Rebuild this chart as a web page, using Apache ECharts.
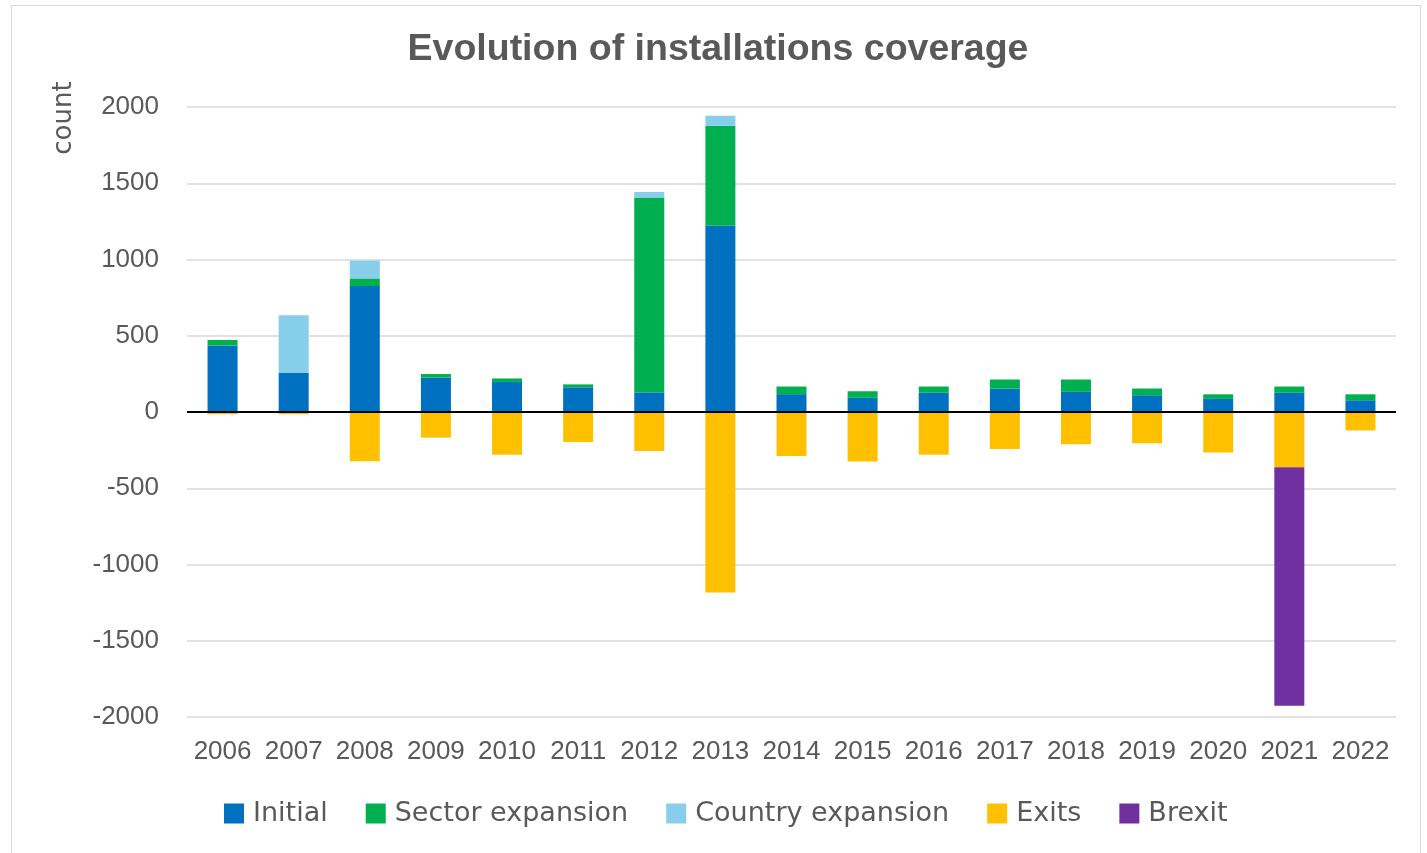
<!DOCTYPE html>
<html>
<head>
<meta charset="utf-8">
<title>Evolution of installations coverage</title>
<script src="https://cdn.jsdelivr.net/npm/echarts@6/dist/echarts.min.js"></script>
<style>
  html, body { margin: 0; padding: 0; background: #ffffff; }
  #chart { width: 1427px; height: 853px; }
</style>
</head>
<body>
<div id="chart"></div>
<script>
// Years on the category axis
const years = ['2006', '2007', '2008', '2009', '2010', '2011', '2012', '2013', '2014',
               '2015', '2016', '2017', '2018', '2019', '2020', '2021', '2022'];

// Installation counts per year, by change type
const initial = [435, 255, 826, 227, 197, 162, 129, 1222, 117, 93, 126, 154, 132, 110, 86, 126, 77];
const sectorExpansion = [37, 0, 50, 22, 23, 19, 1277, 655, 50, 43, 41, 59, 81, 44, 30, 41, 39];
const countryExpansion = [0, 380, 117, 0, 0, 0, 37, 66, 0, 0, 0, 0, 0, 0, 0, 0, 0];
const exits = [-15, -15, -323, -168, -281, -197, -255, -1183, -288, -325, -281, -242, -212, -205, -266, -362, -121];
const brexit = [0, 0, 0, 0, 0, 0, 0, 0, 0, 0, 0, 0, 0, 0, 0, -1564, 0];

// Value axis ticks
const yMin = -2000, yMax = 2000, yStep = 500;

const seriesNames = ['Initial', 'Sector expansion', 'Country expansion', 'Exits', 'Brexit'];
const seriesColors = ['#0070C0', '#00B050', '#87CEEB', '#FFC000', '#7030A0'];
const seriesData = [initial, sectorExpansion, countryExpansion, exits, brexit];

const axisFont = "'Liberation Sans', Arial, sans-serif";
const legendFont = "'DejaVu Sans', sans-serif";

const chart = echarts.init(document.getElementById('chart'), null, { renderer: 'canvas' });

const series = seriesNames.map((name, i) => ({
  name: name,
  type: 'bar',
  stack: 'total',
  barWidth: 30,
  itemStyle: { color: seriesColors[i] },
  data: seriesData[i].map(v => (v === 0 ? null : v))
}));

// Zero baseline drawn across the plot
series[0].markLine = {
  silent: true,
  symbol: ['none', 'none'],
  label: { show: false },
  lineStyle: { color: '#000000', width: 2, type: 'solid' },
  data: [{ yAxis: 0 }]
};

chart.setOption({
  backgroundColor: '#ffffff',
  animation: false,
  title: {
    text: 'Evolution of installations coverage',
    left: 713,
    textAlign: 'center',
    top: 26,
    textStyle: {
      fontFamily: axisFont,
      fontWeight: 'bold',
      fontSize: 37.5,
      color: '#595959'
    }
  },
  grid: { left: 187, right: 31, top: 107, bottom: 136 },
  legend: {
    left: 219,
    top: 795,
    icon: 'rect',
    itemWidth: 20,
    itemHeight: 20,
    itemGap: 38,
    data: seriesNames,
    textStyle: {
      fontFamily: legendFont,
      fontSize: 27,
      color: '#595959',
      padding: [0, 0, 0, 4]
    }
  },
  xAxis: {
    type: 'category',
    data: years,
    axisLine: { show: false },
    axisTick: { show: false },
    axisLabel: {
      interval: 0,
      margin: 22,
      fontFamily: axisFont,
      fontSize: 26,
      color: '#595959'
    },
    splitLine: { show: false }
  },
  yAxis: {
    type: 'value',
    min: yMin,
    max: yMax,
    interval: yStep,
    axisLine: { show: false },
    axisTick: { show: false },
    axisLabel: {
      margin: 28,
      formatter: v => String(v),
      fontFamily: axisFont,
      fontSize: 26,
      color: '#595959'
    },
    splitLine: { lineStyle: { color: '#D9D9D9', width: 1.5 } }
  },
  graphic: [
    {
      type: 'rect',
      silent: true,
      z: -10,
      shape: { x: 11.5, y: 5.5, width: 1409, height: 860 },
      style: { fill: 'none', stroke: '#D9D9D9', lineWidth: 1 }
    },
    {
      type: 'text',
      silent: true,
      x: 64,
      y: 118,
      rotation: Math.PI / 2,
      style: {
        text: 'count',
        align: 'center',
        verticalAlign: 'middle',
        fontFamily: legendFont,
        fontSize: 26,
        fill: '#595959'
      }
    }
  ],
  series: series
});
</script>
</body>
</html>
